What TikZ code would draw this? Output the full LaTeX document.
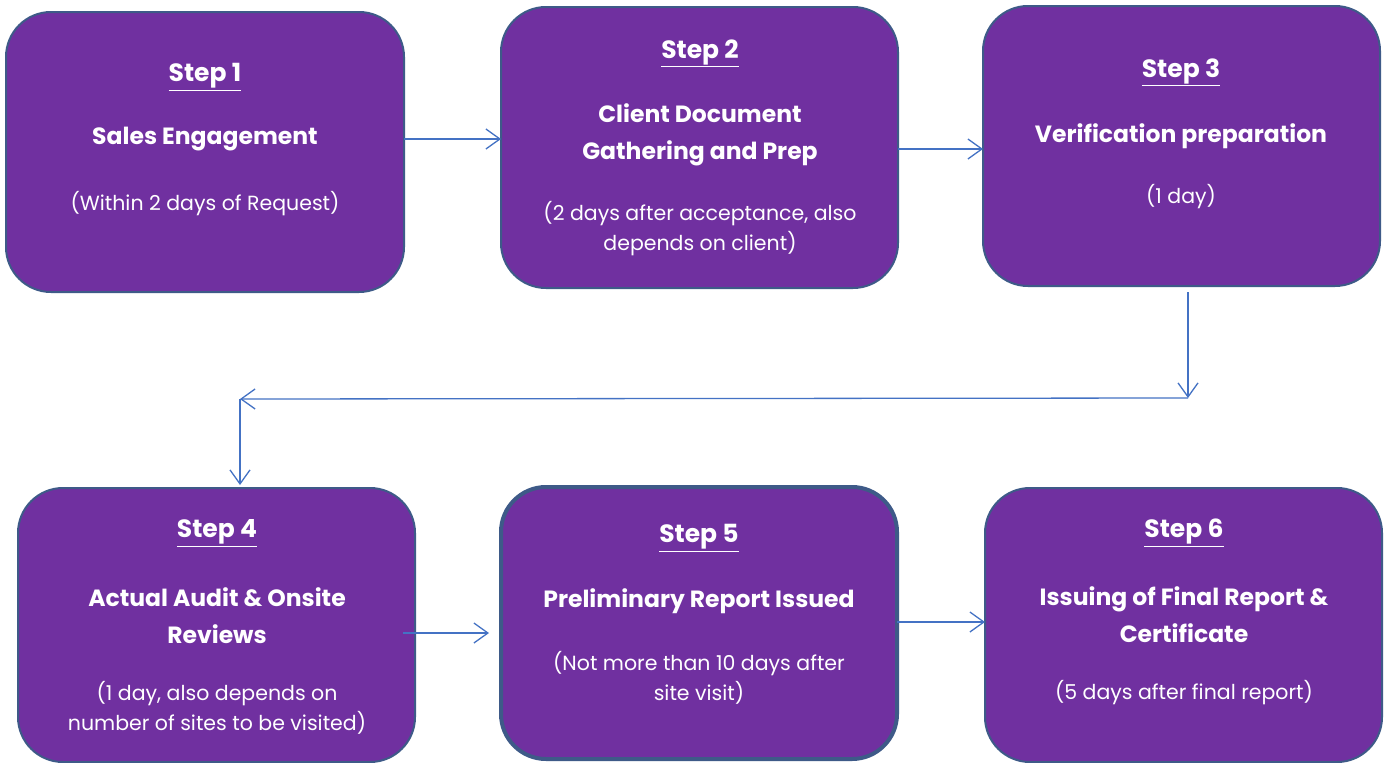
\documentclass[tikz,border=0pt]{standalone}
\usepackage{fontspec}
\setmainfont{Poppins}
\usetikzlibrary{arrows.meta}
\definecolor{boxfill}{HTML}{7030A0}
\definecolor{boxline}{HTML}{3E5A88}
\definecolor{connclr}{HTML}{4472C4}
\tikzset{
  stepbox/.style={draw=boxline, line width=2pt, fill=boxfill, rounded corners=45pt, inner sep=0pt, outer sep=0pt},
  steplabel/.style={text=white, font=\bfseries\fontsize{25}{29}\selectfont, inner sep=0pt},
  titletext/.style={text=white, font=\bfseries\fontsize{23.5}{37}\selectfont, align=center, inner sep=0pt},
  subtext/.style={text=white, font=\fontsize{20.5}{30}\selectfont, align=center, inner sep=0pt},
  connline/.style={draw=connclr, line width=1.3pt, -{Straight Barb[length=14pt,width=20pt,line width=1.3pt]}},
  plainline/.style={draw=connclr, line width=1.3pt}
}
\begin{document}
\begin{tikzpicture}[x=1pt,y=-1pt]
\useasboundingbox (0,0) rectangle (1387,763);
\fill[white] (0,0) rectangle (1387,763);
% boxes
\node[stepbox, minimum width=398pt, minimum height=280pt] (b1) at (205,152) {};
\node[stepbox, minimum width=397pt, minimum height=281pt] (b2) at (699.5,147.5) {};
\node[stepbox, minimum width=397pt, minimum height=280pt] (b3) at (1181.5,146) {};
\node[stepbox, minimum width=397pt, minimum height=274pt] (b4) at (216.5,625) {};
\node[stepbox, line width=4pt, minimum width=396pt, minimum height=272pt] (b5) at (699,623) {};
\node[stepbox, minimum width=397pt, minimum height=274pt] (b6) at (1183.5,625) {};
% texts box 1
\node[steplabel] (s1) at (205,77) {\underline{Step 1}};
\node[titletext] (t1) at (205,139) {Sales Engagement};
\node[subtext] (d1) at (205,204) {(Within 2 days of Request)};
% box 2
\node[steplabel] (s2) at (700,53) {\underline{Step 2}};
\node[titletext] (t2) at (700,134.5) {Client Document\\Gathering and Prep};
\node[subtext] (d2) at (700,229) {(2 days after acceptance, also\\depends on client)};
% box 3
\node[steplabel] (s3) at (1181,72) {\underline{Step 3}};
\node[titletext] (t3) at (1181,136) {Verification preparation};
\node[subtext] (d3) at (1181,197) {(1 day)};
% box 4
\node[steplabel] (s4) at (217,533) {\underline{Step 4}};
\node[titletext] (t4) at (217,615.5) {Actual Audit \& Onsite\\Reviews};
\node[subtext] (d4) at (217,707.5) {(1 day, also depends on\\number of sites to be visited)};
% box 5
\node[steplabel] (s5) at (699,538) {\underline{Step 5}};
\node[titletext] (t5) at (699,601) {Preliminary Report Issued};
\node[subtext] (d5) at (699,677.5) {(Not more than 10 days after\\site visit)};
% box 6
\node[steplabel] (s6) at (1184,533) {\underline{Step 6}};
\node[titletext] (t6) at (1184,615) {Issuing of Final Report \&\\Certificate};
\node[subtext] (d6) at (1184,693) {(5 days after final report)};
% connectors
\coordinate (c1) at (1188,398);
\coordinate (c2) at (240,399);
\draw[connline] (b1.east |- t1) -- (b2.west |- t1);
\draw[connline] (b2.east |- 0,149) -- (b3.west |- 0,149);
\draw[connline] ([yshift=-6pt]b3.south -| c1) -- (c1);
\draw[connline] (c1) -- (c2);
\draw[connline] (c2) -- ([yshift=3pt]b4.north -| c2);
\draw[connline] ([xshift=-12pt]b4.east |- 0,633) -- ([xshift=-12pt]b5.west |- 0,633);
\draw[connline] (b5.east |- 0,622) -- (b6.west |- 0,622);
\end{tikzpicture}
\end{document}
